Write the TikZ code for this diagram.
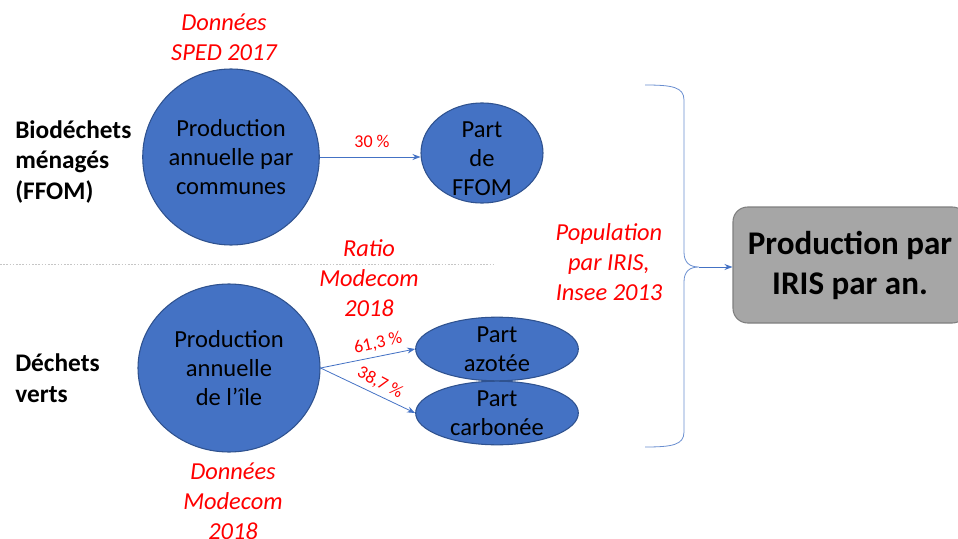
\documentclass[tikz,border=0pt]{standalone}
\usepackage{fontspec}
\setmainfont{Carlito}
\usetikzlibrary{shapes.geometric,arrows.meta}
\definecolor{pblue}{HTML}{4472C4}
\definecolor{pborder}{HTML}{2F528F}
\definecolor{boxfill}{HTML}{A6A6A6}
\definecolor{boxline}{HTML}{7F7F7F}
\tikzset{
  blob/.style={ellipse, fill=pblue, draw=pborder, line width=0.8pt, inner sep=0pt,
    align=center, text=black, font=\fontsize{18.4}{21.8}\selectfont},
  blobtext/.style={align=center, text=black, inner sep=0pt, font=\fontsize{18.4}{21.8}\selectfont},
  src/.style={text=red, align=center, font=\fontsize{18.3}{22.5}\selectfont\itshape},
  pct/.style={text=red, inner sep=1pt, font=\fontsize{13.5}{16}\selectfont},
  flow/.style={draw=pblue, line width=0.6pt, -{Stealth[length=6pt,width=4.5pt]}},
  cat/.style={anchor=west, align=left, inner sep=0pt, font=\fontsize{19}{23.2}\selectfont\bfseries},
  brace/.style={draw=pblue!80, line width=0.6pt},
}
\begin{document}
\begin{tikzpicture}[x=0.75pt,y=-0.75pt]
\useasboundingbox (0,0) rectangle (958,539);

% separator between the two waste streams
\draw[gray!45, line width=0.6pt, dash pattern=on 1.2pt off 1.2pt] (0,264) -- (495,264);

% row labels
\node[cat] (lab1) at (15,162) {Biodéchets\\ménagés\\(FFOM)};
\node[cat] (lab2) at (15,378) {Déchets\\verts};

% household biowaste
\node[blob, minimum width=132pt, minimum height=132pt] (c1) at (231,157)
  {Production\\annuelle par\\communes};
\node[blob, minimum width=91.5pt, minimum height=75pt] (ffom) at (482,153) {};
\node[blobtext] (ffomtxt) at ([yshift=-4pt]ffom.center) {Part\\de\\FFOM};

% green waste
\node[blob, minimum width=136.5pt, minimum height=126pt] (c2) at (229,368)
  {Production\\annuelle\\de l’île};
\node[blob, minimum width=122pt, minimum height=43.5pt] (azo) at (497,349)
  {Part\\azotée};
\node[blob, minimum width=122pt, minimum height=46.5pt] (carb) at (497,413)
  {Part\\carbonée};

% flows with shares
\draw[flow] (c1.east) -- (c1.east -| ffom.west);
\node[pct] (p30) at (372,141) {30 \%};
\draw[flow] (c2.east) -- (azo.west);
\draw[flow] (c2.east) -- (carb.west);
\node[pct, rotate=13] (p613) at (378,343) {61,3 \%};
\node[pct, rotate=-28] (p387) at (380,383) {38,7 \%};

% data sources
\node[src] (s1) at (224,37) {Données\\SPED 2017};
\node[src] (s2) at (369,278) {Ratio\\Modecom\\2018};
\node[src] (s3) at (609,262) {Population\\par IRIS,\\Insee 2013};
\node[src] (s4) at (233,501) {Données\\Modecom\\2018};

% result box
\node[draw=boxline, fill=boxfill, line width=0.8pt, rounded corners=11pt,
  minimum width=175.5pt, minimum height=87pt, align=center, inner sep=0pt,
  font=\fontsize{24.8}{30}\selectfont\bfseries] (res) at (850,265)
  {Production par\\IRIS par an.};

% brace gathering both streams
\coordinate (tip) at (699,267);
\draw[brace] (645,85) .. controls (672,85) and (684,87) .. (684,100)
  -- (684,252) .. controls (684,263) and (690,267) .. (tip)
  .. controls (690,267) and (684,271) .. (684,282)
  -- (684,432) .. controls (684,445) and (672,447) .. (645,447);
\draw[flow] (tip) -- (tip -| res.west);
\end{tikzpicture}
\end{document}
